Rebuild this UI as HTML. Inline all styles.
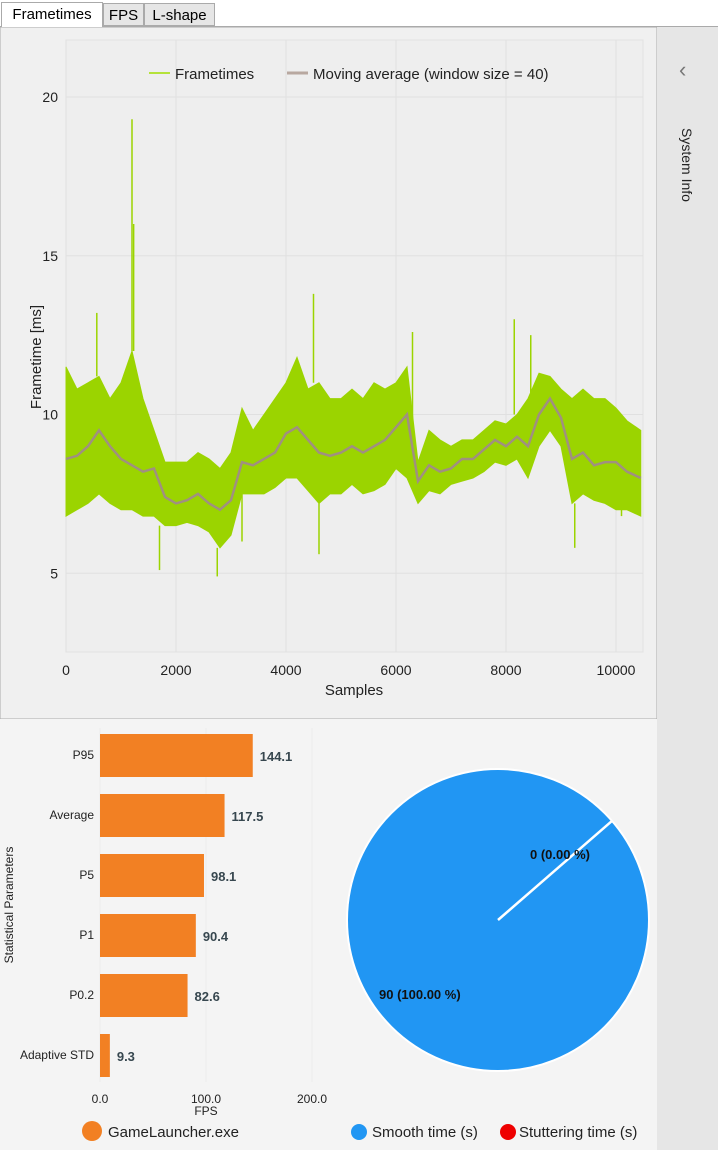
<!DOCTYPE html>
<html><head><meta charset="utf-8"><style>
body{margin:0;width:718px;height:1150px;background:#f4f4f4;font-family:"Liberation Sans",sans-serif;position:relative;overflow:hidden}
.tab{position:absolute;top:3px;height:23px;border:1px solid #aaa;background:#e6e6e6;font-size:15px;line-height:23px;text-align:center;box-sizing:border-box}
</style></head><body>
<div style="position:absolute;left:0;top:0;width:718px;height:27px;background:#fff;border-bottom:1px solid #aaa;box-sizing:border-box"></div>
<div class="tab" style="left:1px;width:102px;background:#fff;border-bottom:none;height:25px;top:2px">Frametimes</div>
<div class="tab" style="left:103px;width:41px">FPS</div>
<div class="tab" style="left:144px;width:71px">L-shape</div>
<div style="position:absolute;left:657px;top:27px;width:61px;height:1123px;background:#e6e6e6">
<div style="position:absolute;left:22px;top:30px;font-size:22px;color:#777">‹</div>
<div style="position:absolute;left:-10px;top:130px;width:80px;transform:rotate(90deg);font-size:14px;color:#222;text-align:center">System Info</div>
</div>
<svg id="ft" width="657" height="692" style="position:absolute;left:0;top:27px" font-family="Liberation Sans, sans-serif"></svg>
<svg id="bar" width="340" height="430" style="position:absolute;left:0;top:720px" font-family="Liberation Sans, sans-serif"></svg>
<svg id="pie" width="317" height="430" style="position:absolute;left:340px;top:720px" font-family="Liberation Sans, sans-serif"></svg>
<script>
const samples=[0,200,400,600,800,1000,1200,1400,1600,1800,2000,2200,2400,2600,2800,3000,3200,3400,3600,3800,4000,4200,4400,4600,4800,5000,5200,5400,5600,5800,6000,6200,6400,6600,6800,7000,7200,7400,7600,7800,8000,8200,8400,8600,8800,9000,9200,9400,9600,9800,10000,10200,10450];
const ftHigh=[11.5,10.8,11.0,11.2,10.5,11.0,12.0,10.5,9.5,8.5,8.5,8.5,8.8,8.6,8.3,8.8,10.2,9.5,10.0,10.5,11.0,11.8,10.8,11.0,10.5,10.5,10.8,10.5,11.0,10.8,11.0,11.5,8.5,9.5,9.2,9.0,9.2,9.2,9.5,9.8,9.7,10.0,10.5,11.3,11.2,10.8,10.5,10.8,10.5,10.5,10.2,9.8,9.5];
const ftLow=[6.8,7.0,7.2,7.5,7.2,7.0,7.0,6.8,6.8,6.5,6.5,6.6,6.5,6.3,5.8,6.2,7.5,7.5,7.5,7.7,8.0,8.0,7.6,7.2,7.5,7.5,7.8,7.5,7.6,7.8,8.3,8.0,7.2,7.6,7.5,7.8,7.9,8.0,8.2,8.5,8.4,8.6,8.0,9.0,9.5,9.0,7.2,7.5,7.3,7.2,7.0,7.0,6.8];
const movingAvg=[8.6,8.7,9.0,9.5,9.0,8.6,8.4,8.2,8.3,7.4,7.2,7.3,7.5,7.2,7.0,7.3,8.5,8.4,8.6,8.8,9.4,9.6,9.2,8.8,8.7,8.8,9.0,8.8,9.0,9.2,9.6,10.0,7.9,8.4,8.2,8.3,8.6,8.6,8.9,9.2,9.0,9.3,9.0,10.0,10.5,9.9,8.6,8.8,8.4,8.5,8.5,8.2,8.0];
const spikeX=[560,1200,1230,1700,2750,3200,4500,4600,6300,8150,8450,9250,10100];
const spikeY=[13.2,19.3,16.0,5.1,4.9,6.0,13.8,5.6,12.6,13.0,12.5,5.8,6.8];
const xTicks=[0,2000,4000,6000,8000,10000];
const yTicks=[5,10,15,20];
const NS="http://www.w3.org/2000/svg";
function mk(p,t,a){const e=document.createElementNS(NS,t);for(const k in a)e.setAttribute(k,a[k]);p.appendChild(e);return e;}
// frametime chart
const ft=document.getElementById('ft');
const X=s=>66+s*0.055, Y=v=>70+(20-v)*31.75; // svg offset top 27
let r=mk(ft,'rect',{x:0,y:0,width:657,height:692,fill:'#f0f0f0',stroke:'#aaa'});

r=mk(ft,'rect',{x:66,y:13,width:577,height:612,fill:'#eeeeee',stroke:'#e2e2e2'});

xTicks.forEach(t=>{const l=mk(ft,'line',{x1:X(t),x2:X(t),y1:13,y2:625,stroke:'#e0e0e0'});
const tx=mk(ft,'text',{x:X(t),y:648,'text-anchor':'middle','font-size':14,fill:'#222'});tx.textContent=t;});
yTicks.forEach(t=>{const l=mk(ft,'line',{x1:66,x2:643,y1:Y(t),y2:Y(t),stroke:'#e0e0e0'});
const tx=mk(ft,'text',{x:58,y:Y(t)+5,'text-anchor':'end','font-size':14,fill:'#222'});tx.textContent=t;});
let pts=samples.map((s,i)=>X(s)+','+Y(ftHigh[i])).concat(samples.map((s,i)=>X(s)+','+Y(ftLow[i])).reverse());
let band=mk(ft,'polygon',{points:pts.join(' '),fill:'#9bd400',stroke:'#9bd400','stroke-width':1});

spikeX.forEach((s,i)=>{const base=spikeY[i]>10?ftHigh[Math.round(s/200)]:ftLow[Math.round(s/200)];const l=mk(ft,'line',{x1:X(s),x2:X(s),y1:Y(base),y2:Y(spikeY[i]),stroke:'#9bd400','stroke-width':1.5});});
let avg=mk(ft,'polyline',{points:samples.map((s,i)=>X(s)+','+Y(movingAvg[i])).join(' '),fill:'none',stroke:'#a09080','stroke-width':2.5});

let t=mk(ft,'text',{x:354,y:668,'text-anchor':'middle','font-size':15,fill:'#222'});t.textContent='Samples';
t=mk(ft,'text',{x:41,y:330,'text-anchor':'middle','font-size':15,fill:'#222',transform:'rotate(-90 41 330)'});t.textContent='Frametime [ms]';
let l=mk(ft,'line',{x1:149,x2:170,y1:46,y2:46,stroke:'#b5e23a','stroke-width':2});
t=mk(ft,'text',{x:175,y:52,'font-size':15,fill:'#222'});t.textContent='Frametimes';
l=mk(ft,'line',{x1:287,x2:308,y1:46,y2:46,stroke:'#b8a8a0','stroke-width':3});
t=mk(ft,'text',{x:313,y:52,'font-size':15,fill:'#222'});t.textContent='Moving average (window size = 40)';
// bar chart
const barCats=['P95','Average','P5','P1','P0.2','Adaptive STD'];
const barVals=[144.1,117.5,98.1,90.4,82.6,9.3];
const fpsTicks=[0,100,200];
const bar=document.getElementById('bar');
const BX=v=>100+v*1.06;
fpsTicks.forEach(v=>{const g=mk(bar,'line',{x1:BX(v),x2:BX(v),y1:8,y2:362,stroke:'#ebebeb'});
const tx=mk(bar,'text',{x:BX(v),y:383,'text-anchor':'middle','font-size':12,fill:'#222'});tx.textContent=v.toFixed(1);});
barCats.forEach((c,i)=>{const cy=35+i*60;
const b=mk(bar,'rect',{x:100,y:cy-21,width:BX(barVals[i])-100,height:43,fill:'#f28023'});
const lb=mk(bar,'text',{x:94,y:cy+4,'text-anchor':'end','font-size':12,fill:'#222'});lb.textContent=c;
const vl=mk(bar,'text',{x:BX(barVals[i])+7,y:cy+6,'font-size':13,'font-weight':'bold',fill:'#37474f'});vl.textContent=barVals[i].toFixed(1);});
t=mk(bar,'text',{x:206,y:395,'text-anchor':'middle','font-size':12,fill:'#222'});t.textContent='FPS';
t=mk(bar,'text',{x:13,y:185,'text-anchor':'middle','font-size':12,fill:'#222',transform:'rotate(-90 13 185)'});t.textContent='Statistical Parameters';
let c=mk(bar,'circle',{cx:92,cy:411,r:10,fill:'#f28023'});
t=mk(bar,'text',{x:108,y:417,'font-size':15,fill:'#222'});t.textContent='GameLauncher.exe';
// pie
const pieLabels=['Smooth time (s)','Stuttering time (s)'];
const pieVals=[90,0];
const pie=document.getElementById('pie');
const cx=158,cy=200,R=151,startDeg=41;
const total=pieVals.reduce((a,b)=>a+b,0);
c=mk(pie,'circle',{cx:cx,cy:cy,r:R,fill:'#2196f3',stroke:'#fff','stroke-width':2});
const a=(90-startDeg)*Math.PI/180;
l=mk(pie,'line',{x1:cx,y1:cy,x2:cx+R*Math.sin(a),y2:cy-R*Math.cos(a),stroke:'#fff','stroke-width':2.5});
t=mk(pie,'text',{x:190,y:139,'font-size':13,'font-weight':'bold',fill:'#111'});t.textContent=pieVals[1]+' ('+(pieVals[1]/total*100).toFixed(2)+' %)';
t=mk(pie,'text',{x:39,y:279,'font-size':13,'font-weight':'bold',fill:'#111'});t.textContent=pieVals[0]+' ('+(pieVals[0]/total*100).toFixed(2)+' %)';
c=mk(pie,'circle',{cx:19,cy:412,r:8,fill:'#2196f3'});
t=mk(pie,'text',{x:32,y:417,'font-size':15,fill:'#222'});t.textContent=pieLabels[0];
c=mk(pie,'circle',{cx:168,cy:412,r:8,fill:'#e00'});
t=mk(pie,'text',{x:179,y:417,'font-size':15,fill:'#222'});t.textContent=pieLabels[1];
</script>
</body></html>
